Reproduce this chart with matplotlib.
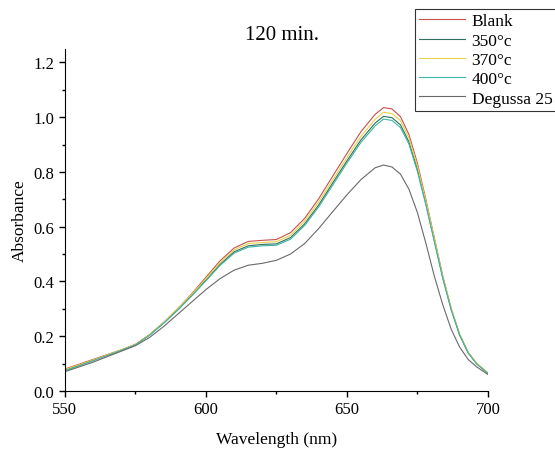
import numpy as np
import matplotlib
matplotlib.use("Agg")
import matplotlib.pyplot as plt
from matplotlib.ticker import MultipleLocator

plt.rcParams['font.family'] = ['Liberation Serif', 'DejaVu Serif']

# Wavelength grid (nm)
wavelength = [550, 560, 570, 575, 580, 585, 590, 595, 600, 605, 610, 615, 620, 625,
              630, 635, 640, 645, 650, 655, 660, 663, 666, 669, 672, 675, 678, 681,
              684, 687, 690, 693, 696, 700]

# Absorbance of each sample
blank = [0.080, 0.115, 0.150, 0.170, 0.205, 0.250, 0.300, 0.355, 0.415, 0.475, 0.522,
         0.546, 0.550, 0.553, 0.578, 0.630, 0.702, 0.785, 0.867, 0.947, 1.010, 1.035,
         1.030, 1.002, 0.937, 0.832, 0.700, 0.560, 0.420, 0.300, 0.205, 0.140, 0.100, 0.065]
t350 = [0.076, 0.112, 0.149, 0.169, 0.204, 0.248, 0.297, 0.350, 0.405, 0.462, 0.508,
        0.530, 0.535, 0.537, 0.560, 0.610, 0.679, 0.760, 0.840, 0.917, 0.978, 1.003,
        0.998, 0.972, 0.910, 0.810, 0.685, 0.550, 0.414, 0.298, 0.205, 0.140, 0.100, 0.065]
t370 = [0.078, 0.113, 0.150, 0.170, 0.205, 0.250, 0.300, 0.353, 0.410, 0.468, 0.515,
        0.538, 0.542, 0.545, 0.568, 0.620, 0.690, 0.771, 0.852, 0.930, 0.992, 1.018,
        1.013, 0.987, 0.924, 0.822, 0.695, 0.558, 0.420, 0.302, 0.208, 0.142, 0.102, 0.066]
t400 = [0.073, 0.110, 0.148, 0.168, 0.203, 0.247, 0.295, 0.347, 0.402, 0.458, 0.503,
        0.525, 0.530, 0.532, 0.554, 0.604, 0.672, 0.752, 0.832, 0.908, 0.968, 0.993,
        0.988, 0.962, 0.902, 0.802, 0.680, 0.546, 0.412, 0.296, 0.204, 0.139, 0.099, 0.064]
degussa = [0.070, 0.105, 0.145, 0.165, 0.195, 0.235, 0.280, 0.325, 0.370, 0.410, 0.441,
           0.459, 0.466, 0.477, 0.500, 0.538, 0.593, 0.655, 0.716, 0.772, 0.815, 0.825,
           0.818, 0.792, 0.737, 0.652, 0.540, 0.420, 0.315, 0.225, 0.160, 0.115, 0.088, 0.060]

labels = ['Blank', '350°c', '370°c', '400°c', 'Degussa 25']
colors = ['#c8504a', '#2e6e5e', '#e6d24e', '#40b4a6', '#6a6a6a']

fig = plt.figure(figsize=(5.55, 4.52), dpi=100)
ax = fig.add_axes([0.117, 0.133, 0.762, 0.757])

for y, lab, c in zip([blank, t350, t370, t400, degussa], labels, colors):
    ax.plot(wavelength, y, color=c, lw=0.8, label=lab)

ax.set_xlim(550, 700)
ax.set_ylim(0, 1.25)
ax.xaxis.set_major_locator(MultipleLocator(50))
ax.xaxis.set_minor_locator(MultipleLocator(25))
ax.yaxis.set_major_locator(MultipleLocator(0.2))
ax.yaxis.set_minor_locator(MultipleLocator(0.1))
ax.yaxis.set_major_formatter(matplotlib.ticker.FormatStrFormatter('%.1f'))
ax.spines['top'].set_visible(False)
ax.spines['right'].set_visible(False)
ax.tick_params(which='major', length=4, width=1, labelsize=12)
ax.tick_params(which='minor', length=2.5, width=1)

ax.set_xlabel('Wavelength (nm)', fontsize=12.5, labelpad=10)
ax.set_ylabel('Absorbance', fontsize=12.5, labelpad=4)
fig.text(0.508, 0.922, '120 min.', fontsize=15, ha='center', va='center')

leg = fig.legend(loc='upper left', bbox_to_anchor=(0.748, 0.978), fontsize=12.5,
                 frameon=True, fancybox=False, handlelength=2.6, handletextpad=0.4,
                 borderpad=0.25, labelspacing=0.18, borderaxespad=0)
leg.get_frame().set_edgecolor('black')
leg.get_frame().set_linewidth(0.8)

fig.savefig('out.png', dpi=100)
